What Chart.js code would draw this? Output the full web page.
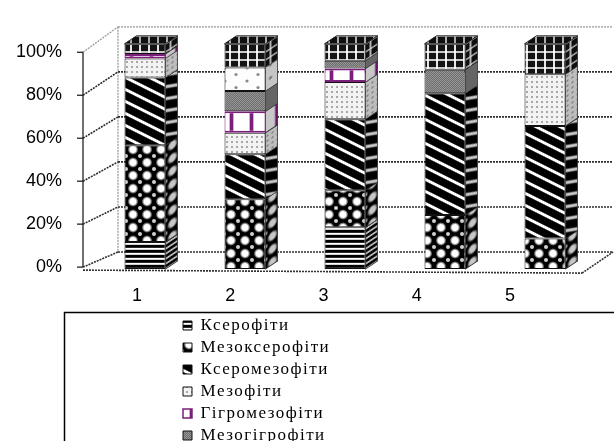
<!DOCTYPE html>
<html><head><meta charset="utf-8">
<script src="https://cdn.jsdelivr.net/npm/chart.js@4.4.1/dist/chart.umd.min.js"></script>
<style>html,body{margin:0;padding:0;background:#fff;overflow:hidden}#wrap{width:614px;height:441px;position:relative}</style>
</head><body><div id="wrap"><canvas id="c" width="614" height="441"></canvas></div>
<script>
// ---- data ----
const categories = ['1', '2', '3', '4', '5'];
const seriesNames = ['Ксерофіти', 'Мезоксерофіти', 'Ксеромезофіти', 'Мезофіти', 'Гігромезофіти', 'Мезогігрофіти', 'Гігрофіти', 'Гідрофіти'];
const kserofity      = [12,   0,    18.5, 0,    0];
const mezokserofity  = [43,   31,   16.5, 24,   13.5];
const kseromezofity  = [30,   20,   31.5, 54,   50];
const mezofity       = [8.5,  9.5,  16.5, 0,    23];
const gigromezofity  = [2,    9.5,  6,    0,    0];
const mezogigrofity  = [0,    9,    3.5,  10.5, 0];
const gigrofity      = [0,    10.5, 0,    0,    0];
const gidrofity      = [4.5,  10.5, 7.5,  11.5, 13.5];
const yTickValues = [0, 20, 40, 60, 80, 100];

const canvas = document.getElementById('c');
const mctx = canvas.getContext('2d');

function makePattern(w, h, draw) {
  const c = document.createElement('canvas'); c.width = w; c.height = h;
  const g = c.getContext('2d'); draw(g, w, h);
  return mctx.createPattern(c, 'repeat');
}
function pixelPattern(w, h, fn) {
  return makePattern(w, h, (g) => {
    const img = g.createImageData(w, h);
    for (let y = 0; y < h; y++) for (let x = 0; x < w; x++) {
      const [r, gg, b] = fn(x, y); const i = (y * w + x) * 4;
      img.data[i] = r; img.data[i + 1] = gg; img.data[i + 2] = b; img.data[i + 3] = 255;
    }
    g.putImageData(img, 0, 0);
  });
}
// patterns
const pHoriz = pixelPattern(1, 5, (x, y) => { const v = [0, 0, 40, 255, 210][y]; return [v, v, v]; });
const pCheck = makePattern(14, 13, (g) => {
  g.fillStyle = '#000'; g.fillRect(0, 0, 14, 13);
  const grad = g.createRadialGradient(7, 6.5, 0, 7, 6.5, 5.4);
  grad.addColorStop(0, '#fff'); grad.addColorStop(0.55, '#fff'); grad.addColorStop(1, 'rgba(255,255,255,0)');
  g.fillStyle = grad; g.beginPath(); g.arc(7, 6.5, 5.4, 0, Math.PI * 2); g.fill();
  g.fillStyle = '#d0d0d0';
  [[0, 0], [14, 0], [0, 13], [14, 13]].forEach(([cx, cy]) => { g.beginPath(); g.arc(cx, cy, 2, 0, Math.PI * 2); g.fill(); });
});
const pDiag = pixelPattern(24, 12, (x, y) => {
  const d = (((x - 2 * y) % 24) + 24) % 24;
  let v = 0;
  if (d >= 17 && d <= 21) v = 255; else if (d === 16 || d === 22) v = 140; else if (d === 15 || d === 23) v = 50;
  return [v, v, v];
});
const pDots = makePattern(5, 5, (g) => { g.fillStyle = '#f3f3f3'; g.fillRect(0, 0, 5, 5); g.fillStyle = '#a8a8a8'; g.fillRect(1, 1, 2, 2); });
const pPurple = makePattern(20, 20, (g) => {
  g.fillStyle = '#fff'; g.fillRect(0, 0, 20, 20);
  g.fillStyle = '#d8a8d8'; g.fillRect(9, 0, 5, 20);
  g.fillStyle = '#7b1f7b'; g.fillRect(10, 0, 3, 20);
});
const pGray = pixelPattern(2, 2, (x, y) => { const v = (x + y) % 2 ? 110 : 150; return [v, v, v]; });
const pSparse = makePattern(22, 13, (g) => {
  g.fillStyle = '#fdfdfd'; g.fillRect(0, 0, 22, 13); g.fillStyle = '#8a8a8a';
  [[5, 3], [16, 9.5]].forEach(([cx, cy]) => { g.beginPath(); g.arc(cx, cy, 1.6, 0, Math.PI * 2); g.fill(); });
});
const pGrid = makePattern(9, 8, (g) => {
  g.fillStyle = '#141414'; g.fillRect(0, 0, 9, 8);
  g.fillStyle = '#c8c8c8'; g.fillRect(0, 3, 9, 2);
  g.fillStyle = '#e6e6e6'; g.fillRect(4, 0, 2, 8);
  g.fillStyle = '#fff'; g.fillRect(4, 3, 2, 2);
});

const seriesValues = [kserofity, mezokserofity, kseromezofity, mezofity, gigromezofity, mezogigrofity, gigrofity, gidrofity];
const seriesFills = [pHoriz, pCheck, pDiag, pDots, pPurple, pGray, pSparse, pGrid];

const datasets = seriesNames.map((name, i) => ({
  label: name,
  data: seriesValues[i],
  backgroundColor: seriesFills[i],
  borderColor: i === 4 ? '#7b1f7b' : '#111',
  borderWidth: i === 4 ? { top: 2, bottom: 2, left: 1, right: 1 } : 1,
  borderSkipped: false,
  barPercentage: 0.41,
  categoryPercentage: 1.0,
  xAxisID: 'x', yAxisID: 'y'
}));

const DX = 12, DY = 8;
const LEG_X = 183, LEG_Y = 312, LS = '1.5px';

function seg(ctx, x1, y1, x2, y2) { ctx.beginPath(); ctx.moveTo(x1, y1); ctx.lineTo(x2, y2); ctx.stroke(); }

const fake3d = {
  id: 'fake3d',
  afterInit(chart) {
    const lg = chart.legend; if (!lg) return;
    const of = lg.fit, od = lg.draw;
    lg.fit = function () { const c = this.ctx; c.save(); try { c.letterSpacing = LS; } catch (e) {} of.call(this); c.restore(); };
    lg.draw = function () { const c = this.ctx; c.save(); try { c.letterSpacing = LS; } catch (e) {} od.call(this); c.restore(); };
  },
  beforeDraw(chart) {
    const lg = chart.legend; if (!lg || !lg.legendHitBoxes || !lg.legendHitBoxes.length) return;
    const pad = lg.options.labels.padding;
    const maxW = Math.max(...lg.legendHitBoxes.map(h => h.width));
    lg.left = LEG_X - pad; lg.top = LEG_Y;
    lg.right = LEG_X + maxW + pad + 2; lg.bottom = 2000;
  },
  beforeDatasetsDraw(chart) {
    const { ctx, chartArea: a, scales } = chart;
    const ys = scales.y, yF = scales.yF;
    const fx = a.left - 12, bx = a.left + 23, rx = a.right + 18, ffr = a.right - 13;
    const back = v => ys.getPixelForValue(v) - 17;
    const front = v => yF.getPixelForValue(v);
    ctx.save();
    ctx.lineWidth = 1.3;
    ctx.setLineDash([2, 1]);
    ctx.strokeStyle = '#9a9a9a';
    seg(ctx, bx, back(100), rx, back(100));
    seg(ctx, fx, front(100), bx, back(100));
    seg(ctx, bx, back(100), bx, back(0));
    ctx.strokeStyle = '#2e2e2e'; ctx.lineWidth = 1.6;
    [0, 20, 40, 60, 80].forEach(v => {
      seg(ctx, fx, front(v), bx, back(v));
      seg(ctx, bx, back(v), rx, back(v));
    });
    // floor
    ctx.strokeStyle = '#333';
    seg(ctx, fx, front(0) + 3, ffr, front(0) + 6);
    seg(ctx, ffr, front(0) + 6, rx, back(0));
    // front axis
    ctx.setLineDash([]);
    ctx.strokeStyle = '#222'; ctx.lineWidth = 1.3;
    seg(ctx, fx, front(100), fx, front(0));
    yTickValues.forEach(v => seg(ctx, fx - 6, front(v), fx, front(v)));
    ctx.restore();
  },
  afterDatasetsDraw(chart) {
    const ctx = chart.ctx;
    ctx.save();
    categories.forEach((c, i) => {
      let top = null;
      chart.data.datasets.forEach((ds, d) => {
        if (!ds.data[i]) return;
        const el = chart.getDatasetMeta(d).data[i];
        const { x, y, base, width } = el.getProps(['x', 'y', 'base', 'width'], true);
        const xr = x + width / 2;
        ctx.save();
        ctx.translate(xr, 0);
        ctx.transform(1, -DY / DX, 0, 1, 0, 0);
        ctx.fillStyle = ds.backgroundColor; ctx.fillRect(0, y, DX, base - y);
        ctx.fillStyle = 'rgba(0,0,0,0.22)'; ctx.fillRect(0, y, DX, base - y);
        ctx.strokeStyle = '#333'; ctx.lineWidth = 0.8; ctx.strokeRect(0, y, DX, base - y);
        ctx.restore();
        top = { x, y, width, ds };
      });
      if (top) {
        const xl = top.x - top.width / 2, xr = top.x + top.width / 2, y = top.y;
        ctx.beginPath();
        ctx.moveTo(xl, y); ctx.lineTo(xl + DX, y - DY); ctx.lineTo(xr + DX, y - DY); ctx.lineTo(xr, y); ctx.closePath();
        ctx.fillStyle = top.ds.backgroundColor; ctx.fill();
        ctx.fillStyle = 'rgba(0,0,0,0.25)'; ctx.fill();
        ctx.strokeStyle = '#222'; ctx.lineWidth = 0.9; ctx.stroke();
      }
    });
    ctx.restore();
  },
  afterDraw(chart) {
    const ctx = chart.ctx;
    ctx.save();
    ctx.strokeStyle = '#000'; ctx.lineWidth = 1.5;
    ctx.strokeRect(64.5, LEG_Y + 0.5, 620, 200);
    ctx.restore();
  }
};

const tickFont = { family: '"Liberation Sans", Arial, sans-serif', size: 18 };

new Chart(mctx, {
  type: 'bar',
  data: { labels: categories, datasets },
  options: {
    responsive: false,
    animation: false,
    events: [],
    layout: { padding: { top: 30, right: 19, bottom: 0, left: 0 } },
    plugins: {
      tooltip: { enabled: false },
      legend: {
        position: 'bottom', align: 'start', maxHeight: 50,
        labels: {
          font: { family: '"Liberation Serif", "Times New Roman", serif', size: 17 },
          color: '#000', boxWidth: 9, boxHeight: 9, padding: 5
        }
      }
    },
    scales: {
      x: { display: false, stacked: true },
      y: { display: false, stacked: true, min: 0, max: 100, bounds: 'data' },
      xF: {
        type: 'linear', position: 'bottom', min: 0.5496, max: 5.9115, bounds: 'data', offset: false,
        afterBuildTicks: s => { s.ticks = categories.map((c, i) => ({ value: i + 1 })); },
        ticks: { callback: (v, idx) => categories[idx], font: tickFont, color: '#000', padding: 16, autoSkip: false, maxRotation: 0 },
        grid: { display: false, drawTicks: false, offset: false }, border: { display: false },
        afterFit: s => { s.height = 122; }
      },
      yF: {
        type: 'linear', position: 'left', min: -0.877, max: 103.95, bounds: 'data', offset: false,
        afterBuildTicks: s => { s.ticks = yTickValues.map(v => ({ value: v })); },
        ticks: { callback: v => v + '%', font: tickFont, color: '#000', padding: 33, autoSkip: false },
        grid: { display: false, drawTicks: false }, border: { display: false },
        afterFit: s => { s.width = 95; }
      }
    }
  },
  plugins: [fake3d]
});
</script></body></html>
